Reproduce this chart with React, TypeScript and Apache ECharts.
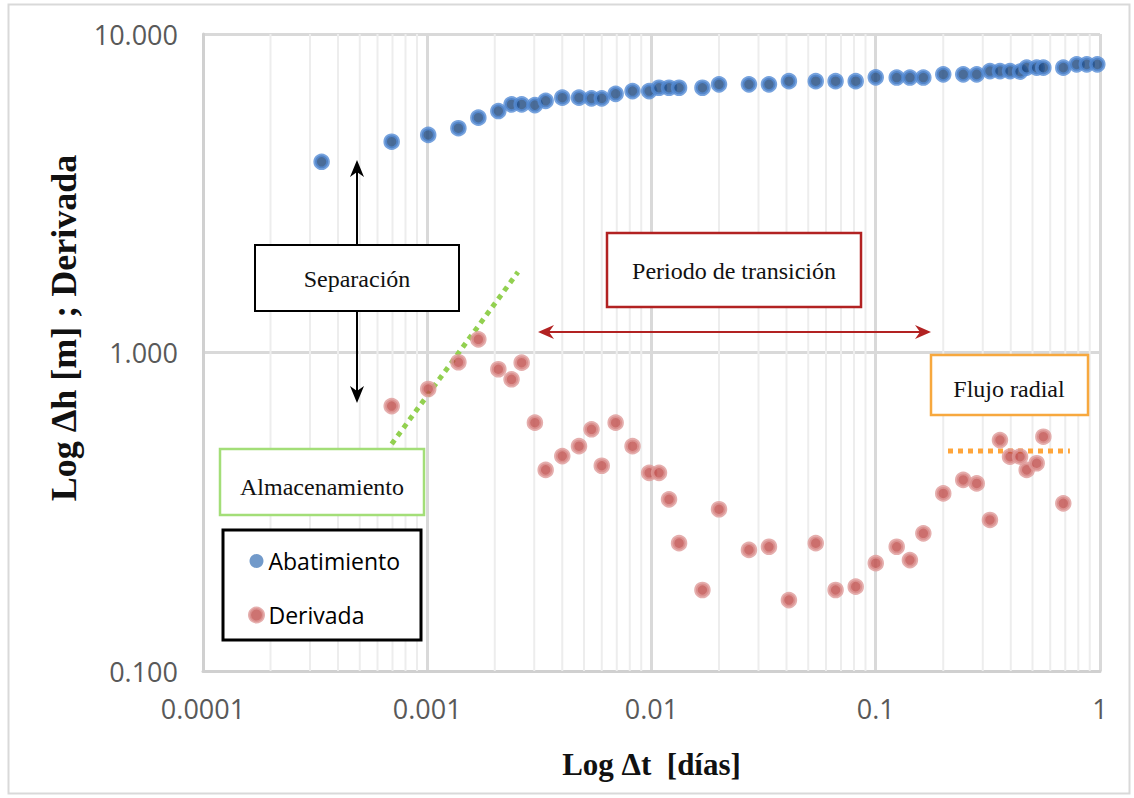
import React, { useEffect, useRef } from "react";
import * as echarts from "echarts";

// Tiempo transcurrido (días)
const tiempo = [
  0.000338, 0.000694, 0.00101, 0.001377, 0.00169, 0.002075, 0.002376, 0.002636,
  0.00302, 0.003373, 0.004, 0.00475, 0.0054, 0.006, 0.00692, 0.00823, 0.00976,
  0.0108, 0.01197, 0.01327, 0.01687, 0.02, 0.0272, 0.0334, 0.041, 0.054, 0.0662,
  0.0814, 0.1, 0.124, 0.142, 0.163, 0.2, 0.2455, 0.282, 0.323, 0.358, 0.397,
  0.44, 0.471, 0.522, 0.559, 0.686, 0.787, 0.873, 0.973,
];

// Abatimiento Δh (m)
const abatimiento = [
  3.97, 4.59, 4.82, 5.06, 5.46, 5.73, 6.01, 6.01, 5.98, 6.17, 6.31, 6.31, 6.28,
  6.28, 6.49, 6.62, 6.62, 6.78, 6.78, 6.78, 6.78, 6.95, 6.95, 6.95, 7.11, 7.11,
  7.11, 7.11, 7.31, 7.3, 7.3, 7.3, 7.47, 7.47, 7.47, 7.65, 7.65, 7.65, 7.62,
  7.84, 7.84, 7.84, 7.84, 8.03, 8.03, 8.03,
];

// Derivada (null donde no se calcula)
const derivada = [
  null, 0.679, 0.768, 0.932, 1.1, 0.886, 0.824, 0.929, 0.602, 0.428, 0.473,
  0.508, 0.574, 0.441, 0.602, 0.508, 0.419, 0.419, 0.346, 0.252, 0.1796, 0.322,
  0.24, 0.2455, 0.167, 0.252, 0.1796, 0.184, 0.218, 0.2455, 0.223, 0.2706,
  0.361, 0.398, 0.388, 0.298, 0.531, 0.471, 0.471, 0.428, 0.449, 0.544, 0.336,
  null, null, null,
];

// Rectas guía: almacenamiento (pendiente unitaria) y flujo radial (horizontal)
const rectaAlmacenamientoT = [0.000694, 0.002539];
const rectaAlmacenamientoV = [0.516, 1.789];
const rectaRadialT = [0.21, 0.734];
const rectaRadialV = [0.491, 0.491];

// Rejilla logarítmica
const decadas = [0.0001, 0.001, 0.01, 0.1];
const factoresMenores = [2, 3, 4, 5, 6, 7, 8, 9];
const xTicks = ["0.0001", "0.001", "0.01", "0.1", "1"];

const serifFont = "'Liberation Serif', serif";
const sansFont = "'Open Sans', sans-serif";

export default function App() {
  const ref = useRef<HTMLDivElement>(null);

  useEffect(() => {
    if (!ref.current) return;
    const chart = echarts.init(ref.current, null, { renderer: "svg" });

    const abatData = tiempo.map((t, i) => [t, abatimiento[i]]);
    const derivData = tiempo
      .map((t, i) => [t, derivada[i]])
      .filter((p) => p[1] !== null);
    const minorData: number[][] = [];
    decadas.forEach((d) =>
      factoresMenores.forEach((f) => minorData.push([d * f, 1]))
    );

    const boxText = (x: number, y: number, text: string) => ({
      type: "text",
      x,
      y,
      style: {
        text,
        font: `24px ${serifFont}`,
        fill: "#111",
        align: "center",
        verticalAlign: "middle",
      },
      z: 101,
    });
    const box = (
      x: number,
      y: number,
      w: number,
      h: number,
      stroke: string,
      lw: number
    ) => ({
      type: "rect",
      shape: { x, y, width: w, height: h },
      style: { fill: "#fff", stroke, lineWidth: lw },
      z: 100,
    });
    const seg = (x1: number, y1: number, x2: number, y2: number, stroke: string) => ({
      type: "line",
      shape: { x1, y1, x2, y2 },
      style: { stroke, lineWidth: 2 },
      z: 100,
    });
    const head = (pts: number[][], fill: string) => ({
      type: "polygon",
      shape: { points: pts },
      style: { fill },
      z: 100,
    });

    const option: any = {
      animation: false,
      backgroundColor: "#fff",
      grid: { left: 203, right: 34, top: 34, bottom: 127 },
      xAxis: {
        type: "log",
        logBase: 10,
        min: 0.0001,
        max: 1,
        name: "Log Δt  [días]",
        nameLocation: "middle",
        nameGap: 78,
        nameTextStyle: {
          fontFamily: serifFont,
          fontWeight: "bold",
          fontSize: 31,
          color: "#111",
        },
        axisLine: { show: true, lineStyle: { color: "#D0D0D0", width: 3 } },
        axisTick: { show: false },
        axisLabel: {
          fontFamily: sansFont,
          fontSize: 27,
          color: "#595959",
          margin: 24,
          formatter: (v: number) => {
            const i = Math.round(Math.log10(v)) + 4;
            return xTicks[i] ?? "";
          },
        },
        splitLine: { show: true, lineStyle: { color: "#D9D9D9", width: 3 } },
      },
      yAxis: {
        type: "log",
        logBase: 10,
        min: 0.1,
        max: 10,
        axisLine: { show: true, lineStyle: { color: "#D0D0D0", width: 3 } },
        axisTick: { show: false },
        axisLabel: {
          fontFamily: sansFont,
          fontSize: 27,
          color: "#595959",
          margin: 25,
          formatter: (v: number) => v.toFixed(3),
        },
        splitLine: { show: true, lineStyle: { color: "#D9D9D9", width: 3 } },
      },
      legend: {
        orient: "vertical",
        left: 243,
        top: 544,
        itemGap: 30,
        itemWidth: 14,
        itemHeight: 14,
        icon: "circle",
        textStyle: { fontFamily: sansFont, fontSize: 23, color: "#000", lineHeight: 24 },
        data: [
          { name: "Abatimiento", itemStyle: { color: "#4F81BD", borderWidth: 0 } },
          {
            name: "Derivada",
            itemStyle: { color: "#C0504D", borderColor: "#DE9A98", borderWidth: 3 },
          },
        ],
        z: 110,
      },
      series: [
        {
          type: "custom",
          name: "rejilla",
          silent: true,
          z: 1,
          data: minorData,
          encode: { x: 0, y: 1 },
          renderItem: (params: any, api: any) => {
            const x = api.coord([api.value(0), 1])[0];
            const cs = params.coordSys;
            return {
              type: "line",
              shape: { x1: x, y1: cs.y, x2: x, y2: cs.y + cs.height },
              style: { stroke: "#EDEDED", lineWidth: 2 },
            };
          },
        },
        {
          type: "line",
          name: "almacenamiento",
          silent: true,
          z: 3,
          showSymbol: false,
          data: rectaAlmacenamientoT.map((t, i) => [t, rectaAlmacenamientoV[i]]),
          lineStyle: { color: "#92D050", width: 5, type: [5, 5] },
        },
        {
          type: "line",
          name: "radial",
          silent: true,
          z: 3,
          showSymbol: false,
          data: rectaRadialT.map((t, i) => [t, rectaRadialV[i]]),
          lineStyle: { color: "#FFA53A", width: 5, type: [5, 5] },
        },
        {
          type: "scatter",
          name: "Abatimiento",
          z: 4,
          symbolSize: 13,
          data: abatData,
          itemStyle: { color: "#1D477E", borderColor: "#558CD6", borderWidth: 3.5 },
        },
        {
          type: "scatter",
          name: "Derivada",
          z: 4,
          symbolSize: 13,
          data: derivData,
          itemStyle: { color: "#BF4B48", borderColor: "#DE9A98", borderWidth: 3.5 },
        },
      ],
      graphic: [
        // Marco exterior
        {
          type: "rect",
          shape: { x: 8.5, y: 4.5, width: 1121, height: 789 },
          style: { fill: "none", stroke: "#D9D9D9", lineWidth: 2 },
          z: 90,
          silent: true,
        },
        // Título del eje vertical
        {
          type: "text",
          x: 64,
          y: 328,
          rotation: Math.PI / 2,
          style: {
            text: "Log Δh [m] ; Derivada",
            font: `bold 36px ${serifFont}`,
            fill: "#111",
            align: "center",
            verticalAlign: "middle",
          },
          z: 100,
        },
        // Separación
        seg(357, 245, 357, 170, "#000"),
        head([[357, 160], [350, 177], [357, 172], [364, 177]], "#000"),
        seg(357, 311, 357, 394, "#000"),
        head([[357, 403], [350, 386], [357, 391], [364, 386]], "#000"),
        box(255, 245, 204, 66, "#000", 2),
        boxText(357, 279, "Separación"),
        // Almacenamiento
        box(220, 449, 204, 66, "#A3DE78", 2.5),
        boxText(322, 487, "Almacenamiento"),
        // Periodo de transición
        box(607, 233, 254, 74, "#B22222", 2.5),
        boxText(734, 271, "Periodo de transición"),
        seg(546, 332, 923, 332, "#B22222"),
        head([[538, 332], [554, 325], [549, 332], [554, 339]], "#B22222"),
        head([[931, 332], [915, 325], [920, 332], [915, 339]], "#B22222"),
        // Flujo radial
        box(931, 355, 157, 60, "#F7A83E", 2.5),
        boxText(1009, 389, "Flujo radial"),
        // Caja de la leyenda
        {
          type: "rect",
          shape: { x: 223, y: 530, width: 198, height: 110 },
          style: { fill: "#fff", stroke: "#000", lineWidth: 3 },
          z: 100,
        },
      ],
    };

    chart.setOption(option);
    return () => chart.dispose();
  }, []);

  return (
    <div
      ref={ref}
      style={{ position: "absolute", left: 0, top: 0, width: 1134, height: 798, background: "#fff" }}
    />
  );
}
